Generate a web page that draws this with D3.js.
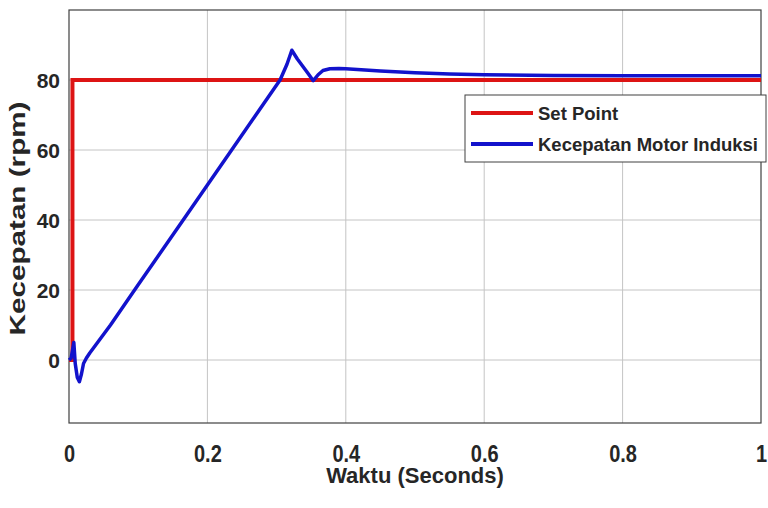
<!DOCTYPE html>
<html>
<head>
<meta charset="utf-8">
<script src="https://cdn.jsdelivr.net/npm/d3@7"></script>
<style>
  body { margin: 0; background: #fff; }
  text { font-family: "Liberation Sans", Arial, sans-serif; font-weight: bold; fill: #262626; }
</style>
</head>
<body>
<svg id="chart"></svg>
<script>
// data
const xTicks = [0, 0.2, 0.4, 0.6, 0.8, 1];
const yTicks = [0, 20, 40, 60, 80];
const setPointT = [0, 0.005, 0.005, 1];
const setPointV = [0, 0, 80, 80];
const speedT = [0, 0.003, 0.007, 0.009, 0.012, 0.015, 0.018, 0.021, 0.025, 0.03, 0.06, 0.1, 0.165, 0.2, 0.235, 0.27, 0.305, 0.315, 0.322, 0.33, 0.345, 0.353, 0.36, 0.367, 0.377, 0.39, 0.4, 0.45, 0.5, 0.55, 0.6, 0.7, 0.8, 0.9, 1];
const speedV = [0, 0.5, 5, -1, -5, -6.2, -4, -1, 0.5, 2, 10, 21.5, 40, 50, 60, 70, 80, 84.5, 88.5, 86, 82, 79.8, 81.5, 82.7, 83.2, 83.3, 83.2, 82.6, 82.1, 81.7, 81.5, 81.3, 81.2, 81.2, 81.2];
const seriesNames = ['Set Point', 'Kecepatan Motor Induksi'];
const seriesColors = ['#dd1414', '#1212cc'];

const W = 768, H = 508;
const margin = {top: 10, right: 7, bottom: 85, left: 69};
const width = W - margin.left - margin.right;
const height = H - margin.top - margin.bottom;

const svg = d3.select('#chart').attr('width', W).attr('height', H);
const g = svg.append('g').attr('transform', `translate(${margin.left},${margin.top})`);

const x = d3.scaleLinear().domain([0, 1]).range([0, width]);
const y = d3.scaleLinear().domain([-18, 100]).range([height, 0]);

// grid
g.append('g').selectAll('line').data(xTicks.slice(1, -1)).join('line')
    .attr('x1', d => x(d)).attr('x2', d => x(d))
    .attr('y1', 0).attr('y2', height)
    .attr('stroke', '#c4c4c4').attr('stroke-width', 1);
g.append('g').selectAll('line').data(yTicks).join('line')
    .attr('x1', 0).attr('x2', width)
    .attr('y1', d => y(d)).attr('y2', d => y(d))
    .attr('stroke', '#c4c4c4').attr('stroke-width', 1);

// axes
const xAxis = g.append('g').attr('transform', `translate(0,${height})`)
    .call(d3.axisBottom(x).tickValues(xTicks).tickFormat(d3.format('~g')).tickSize(0).tickPadding(0));
xAxis.select('.domain').remove();
xAxis.selectAll('text')
    .attr('font-size', 20).attr('dy', null)
    .attr('y', 39 / 1.22)
    .attr('transform', 'scale(1,1.22)');

const yAxis = g.append('g')
    .call(d3.axisLeft(y).tickValues(yTicks).tickSize(0).tickPadding(9));
yAxis.select('.domain').remove();
yAxis.selectAll('text').attr('font-size', 21).attr('dy', '0.36em');

// box
g.append('rect').attr('width', width).attr('height', height)
    .attr('fill', 'none').attr('stroke', '#404040').attr('stroke-width', 1.2);

// lines
const line = d3.line().x(d => x(d[0])).y(d => y(d[1]));
const setPoint = setPointT.map((t, i) => [t, setPointV[i]]);
const speed = speedT.map((t, i) => [t, speedV[i]]);

g.append('path').datum(setPoint).attr('d', line)
    .attr('fill', 'none').attr('stroke', seriesColors[0]).attr('stroke-width', 4);
g.append('path').datum(speed).attr('d', line)
    .attr('fill', 'none').attr('stroke', seriesColors[1]).attr('stroke-width', 3.5)
    .attr('stroke-linejoin', 'round');

// axis titles
svg.append('text')
    .attr('x', margin.left + width / 2).attr('y', 483)
    .attr('text-anchor', 'middle').attr('font-size', 22)
    .text('Waktu (Seconds)');

svg.append('text')
    .attr('transform', `translate(25,${margin.top + height / 2 + 2}) rotate(-90)`)
    .attr('text-anchor', 'middle').attr('font-size', 22)
    .attr('textLength', 234).attr('lengthAdjust', 'spacingAndGlyphs')
    .text('Kecepatan (rpm)');

// legend
const leg = svg.append('g').attr('transform', 'translate(465,95)');
leg.append('rect').attr('width', 301).attr('height', 67)
    .attr('fill', '#fff').attr('stroke', '#404040').attr('stroke-width', 1);
seriesNames.forEach((name, i) => {
  const ly = 18 + i * 31;
  leg.append('line').attr('x1', 6).attr('x2', 68).attr('y1', ly).attr('y2', ly)
      .attr('stroke', seriesColors[i]).attr('stroke-width', 4);
  leg.append('text').attr('x', 73).attr('y', ly + 7)
      .attr('font-size', 18.5).text(name);
});
</script>
</body>
</html>
